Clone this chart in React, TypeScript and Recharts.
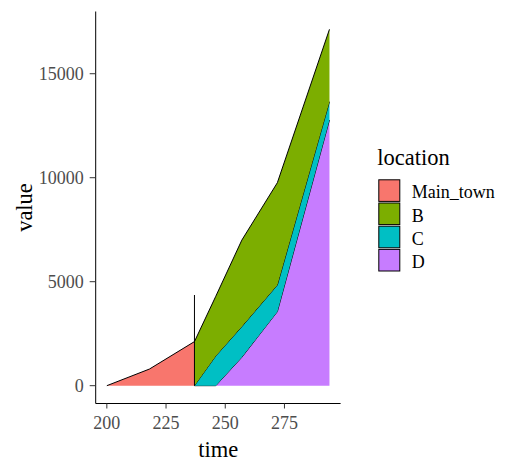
import React from 'react';
import { ComposedChart, Area, XAxis, YAxis, ReferenceLine, Label } from 'recharts';

// ---- data ----
const times = [200, 218, 237, 246, 257, 272, 294];
const mainTownValues = [0, 800, 2120, null, null, null, null];
const bValues = [null, null, 2120, 2870, 4160, 4920, 3480];
const cValues = [null, null, 0, 1430, 1475, 1280, 880];
const dValues = [null, null, 0, 0, 1365, 3560, 12775];
const xTicks = [200, 225, 250, 275];
const yTicks = [0, 5000, 10000, 15000];
const locations = ['Main_town', 'B', 'C', 'D'];
const locationColors = ['#F8766D', '#7CAE00', '#00BFC4', '#C77CFF'];
const jumpSegment = [
  { time: 237, value: 0 },
  { time: 237, value: 4360 },
];

const data = times.map((t, i) => ({
  time: t,
  Main_town: mainTownValues[i],
  B: bValues[i],
  C: cValues[i],
  D: dValues[i],
}));

// ggplot-like 5% expansion
const xMin = Math.min(...times);
const xMax = Math.max(...times);
const xPad = (xMax - xMin) * 0.05;
const stackedTotals = times.map(
  (_, i) => (bValues[i] ?? 0) + (cValues[i] ?? 0) + (dValues[i] ?? 0)
);
const yMaxData = Math.max(...stackedTotals, ...mainTownValues.map((v) => v ?? 0));
const yPad = yMaxData * 0.05;

const FONT = '"Liberation Serif", "Times New Roman", serif';

const YTitle = (props: any) => {
  const vb = props.viewBox || { y: 0, height: 0 };
  const cy = vb.y + vb.height / 2;
  const x = 31.7;
  return (
    <text
      x={x}
      y={cy}
      transform={`rotate(-90, ${x}, ${cy})`}
      textAnchor="middle"
      fontSize={22.5}
      fontFamily={FONT}
      fill="#000"
    >
      value
    </text>
  );
};

const XTitle = (props: any) => {
  const vb = props.viewBox || { x: 0, width: 0 };
  const cx = vb.x + vb.width / 2;
  return (
    <text x={cx} y={456.7} textAnchor="middle" fontSize={22.5} fontFamily={FONT} fill="#000">
      time
    </text>
  );
};

const LegendBox = () => (
  <svg
    width={150}
    height={140}
    style={{ position: 'absolute', left: 360, top: 140 }}
  >
    <text x={17.3} y={25} fontSize={22.5} fontFamily={FONT} fill="#000">
      location
    </text>
    {locations.map((name, i) => (
      <g key={name}>
        <rect
          x={18.8}
          y={39.8 + i * 23.2}
          width={21}
          height={21.6}
          fill={locationColors[i]}
          stroke="#000"
          strokeWidth={1}
        />
        <text x={51.7} y={58.3 + i * 23.2} fontSize={18} fontFamily={FONT} fill="#000">
          {name}
        </text>
      </g>
    ))}
  </svg>
);

export default function App() {
  return (
    <div style={{ position: 'absolute', left: 0, top: 0, width: 520, height: 472, background: '#fff' }}>
      <ComposedChart
        width={520}
        height={472}
        data={data}
        margin={{ top: 11.5, right: 179.4, bottom: 0, left: 0 }}
        style={{ fontFamily: FONT }}
      >
        <XAxis
          dataKey="time"
          type="number"
          domain={[xMin - xPad, xMax + xPad]}
          ticks={xTicks}
          allowDataOverflow
          height={68.5}
          tickSize={5}
          tickMargin={8}
          axisLine={{ stroke: '#000', strokeWidth: 1 }}
          tickLine={{ stroke: '#333', strokeWidth: 1 }}
          tick={{ fill: '#4D4D4D', fontSize: 18, fontFamily: FONT }}
        >
          <Label content={<XTitle />} />
        </XAxis>
        <YAxis
          type="number"
          domain={[-yPad, yMaxData + yPad]}
          ticks={yTicks}
          allowDataOverflow
          width={95.7}
          tickSize={6}
          tickMargin={6}
          axisLine={{ stroke: '#000', strokeWidth: 1 }}
          tickLine={{ stroke: '#333', strokeWidth: 1 }}
          tick={{ fill: '#4D4D4D', fontSize: 18, fontFamily: FONT }}
        >
          <Label content={<YTitle />} />
        </YAxis>
        <Area
          dataKey="Main_town"
          type="linear"
          baseValue={0}
          fill={locationColors[0]}
          fillOpacity={1}
          stroke="#000"
          strokeWidth={1}
          isAnimationActive={false}
          dot={false}
          activeDot={false}
        />
        <Area
          dataKey="D"
          stackId="s"
          type="linear"
          fill={locationColors[3]}
          fillOpacity={1}
          stroke="#000"
          strokeWidth={1}
          isAnimationActive={false}
          dot={false}
          activeDot={false}
        />
        <Area
          dataKey="C"
          stackId="s"
          type="linear"
          fill={locationColors[2]}
          fillOpacity={1}
          stroke="#000"
          strokeWidth={1}
          isAnimationActive={false}
          dot={false}
          activeDot={false}
        />
        <Area
          dataKey="B"
          stackId="s"
          type="linear"
          fill={locationColors[1]}
          fillOpacity={1}
          stroke="#000"
          strokeWidth={1}
          isAnimationActive={false}
          dot={false}
          activeDot={false}
        />
        <ReferenceLine
          segment={jumpSegment.map((p) => ({ x: p.time, y: p.value }))}
          stroke="#000"
          strokeWidth={1}
          ifOverflow="visible"
        />
      </ComposedChart>
      <LegendBox />
    </div>
  );
}
